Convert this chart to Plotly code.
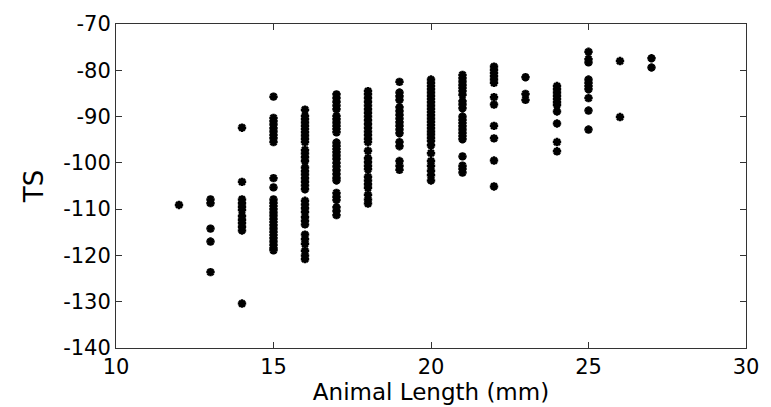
import plotly.graph_objects as go

# Target strength (TS) readings per animal length (mm)
ts_12 = [-109.1]
ts_13 = [-107.9, -108.7, -114.2, -117.0, -123.6]
ts_14 = [-92.4, -104.1, -107.9, -108.7, -109.5, -110.2, -111.5, -112.3, -113.0, -113.8, -114.6, -130.4]
ts_15 = [-85.7, -90.3, -91.0, -91.7, -92.5, -93.2, -94.0, -94.7, -95.5, -103.3, -105.3,
         -107.9, -108.6, -109.3, -110.0, -110.7, -111.4, -112.1, -112.8, -113.5, -114.2,
         -114.9, -115.6, -116.3, -117.0, -117.7, -118.4, -118.9]
ts_16 = [-88.5, -89.9, -90.6, -91.3, -92.0, -92.7, -93.4, -94.1, -94.8, -95.5, -97.2, -98.0,
         -98.8, -99.6, -101.0, -101.8, -102.5, -103.3, -104.1, -104.9, -105.7, -108.2, -109.0,
         -109.8, -110.6, -111.7, -112.5, -113.3, -115.5, -116.5, -117.5, -119.0, -120.0, -120.8]
ts_17 = [-85.2, -86.0, -86.8, -87.6, -88.4, -89.9, -90.6, -91.3, -92.0, -92.7, -93.4, -95.6,
         -96.3, -97.0, -97.7, -98.4, -99.1, -100.0, -100.8, -101.6, -102.4, -103.2, -103.8,
         -106.5, -107.3, -108.0, -109.6, -110.4, -111.3]
ts_18 = [-84.5, -85.2, -86.0, -86.8, -87.6, -88.4, -89.2, -90.0, -90.8, -91.6, -92.4, -93.2,
         -94.0, -94.8, -95.5, -97.4, -99.0, -99.8, -100.6, -101.4, -103.0, -103.8, -104.6,
         -105.4, -106.9, -107.9, -108.8]
ts_19 = [-82.5, -84.8, -85.6, -86.4, -88.0, -88.8, -89.6, -90.4, -91.2, -92.0, -92.8, -93.6,
         -95.5, -96.4, -99.6, -100.6, -101.5]
ts_20 = [-82.0, -82.7, -83.4, -84.1, -84.8, -85.5, -86.2, -86.9, -87.6, -88.3, -89.0, -89.7,
         -90.4, -91.1, -91.8, -92.5, -93.2, -93.9, -94.6, -95.2, -96.2, -97.9, -99.6, -100.6,
         -101.7, -102.7, -103.8]
ts_21 = [-81.0, -81.7, -82.4, -83.1, -83.8, -84.5, -85.3, -86.7, -87.4, -88.2, -90.0, -90.7,
         -91.4, -92.1, -92.8, -93.5, -94.2, -94.9, -98.6, -100.6, -101.3, -102.1]
ts_22 = [-79.2, -79.9, -80.6, -81.3, -82.0, -82.7, -85.8, -87.4, -92.0, -94.7, -99.5, -105.1]
ts_23 = [-81.5, -85.1, -86.4]
ts_24 = [-83.4, -84.1, -84.8, -85.5, -86.2, -86.9, -87.5, -88.9, -91.5, -95.5, -97.5]
ts_25 = [-76.0, -77.6, -78.3, -82.0, -82.7, -83.4, -84.1, -86.0, -88.7, -92.8]
ts_26 = [-78.0, -90.1]
ts_27 = [-77.4, -79.4]

lengths = [12, 13, 14, 15, 16, 17, 18, 19, 20, 21, 22, 23, 24, 25, 26, 27]
ts_lists = [ts_12, ts_13, ts_14, ts_15, ts_16, ts_17, ts_18, ts_19, ts_20,
            ts_21, ts_22, ts_23, ts_24, ts_25, ts_26, ts_27]

x_tick_vals = [10, 15, 20, 25, 30]
x_tick_text = ["10", "15", "20", "25", "30"]
y_tick_vals = [-140, -130, -120, -110, -100, -90, -80, -70]
y_tick_text = ["-140", "-130", "-120", "-110", "-100", "-90", "-80", "-70"]

xs, ys = [], []
for L, vals in zip(lengths, ts_lists):
    xs += [L] * len(vals)
    ys += vals

fig = go.Figure(go.Scatter(
    x=xs, y=ys, mode="markers",
    marker=dict(symbol="asterisk-open", size=7, color="black",
                line=dict(color="black", width=2.5)),
    showlegend=False,
))

font_family = "DejaVu Sans, Arial, sans-serif"
axis_common = dict(
    showgrid=False, zeroline=False, showline=True, mirror="ticks",
    linecolor="#333333", linewidth=1, ticks="inside", ticklen=6,
    tickcolor="#333333", tickfont=dict(family=font_family, size=21, color="black"),
)

fig.update_layout(
    width=771, height=407,
    margin=dict(l=116, r=19, t=17, b=52),
    paper_bgcolor="white", plot_bgcolor="white",
    xaxis=dict(range=[10, 30], tickvals=x_tick_vals, ticktext=x_tick_text, **axis_common,
               title=dict(text="Animal Length (mm)", standoff=0,
                          font=dict(family=font_family, size=23, color="black"))),
    yaxis=dict(range=[-140, -70], tickvals=y_tick_vals, ticktext=y_tick_text, **axis_common,
               title=dict(text="TS", standoff=12,
                          font=dict(family=font_family, size=26, color="black"))),
)

fig.write_html("out.html")
